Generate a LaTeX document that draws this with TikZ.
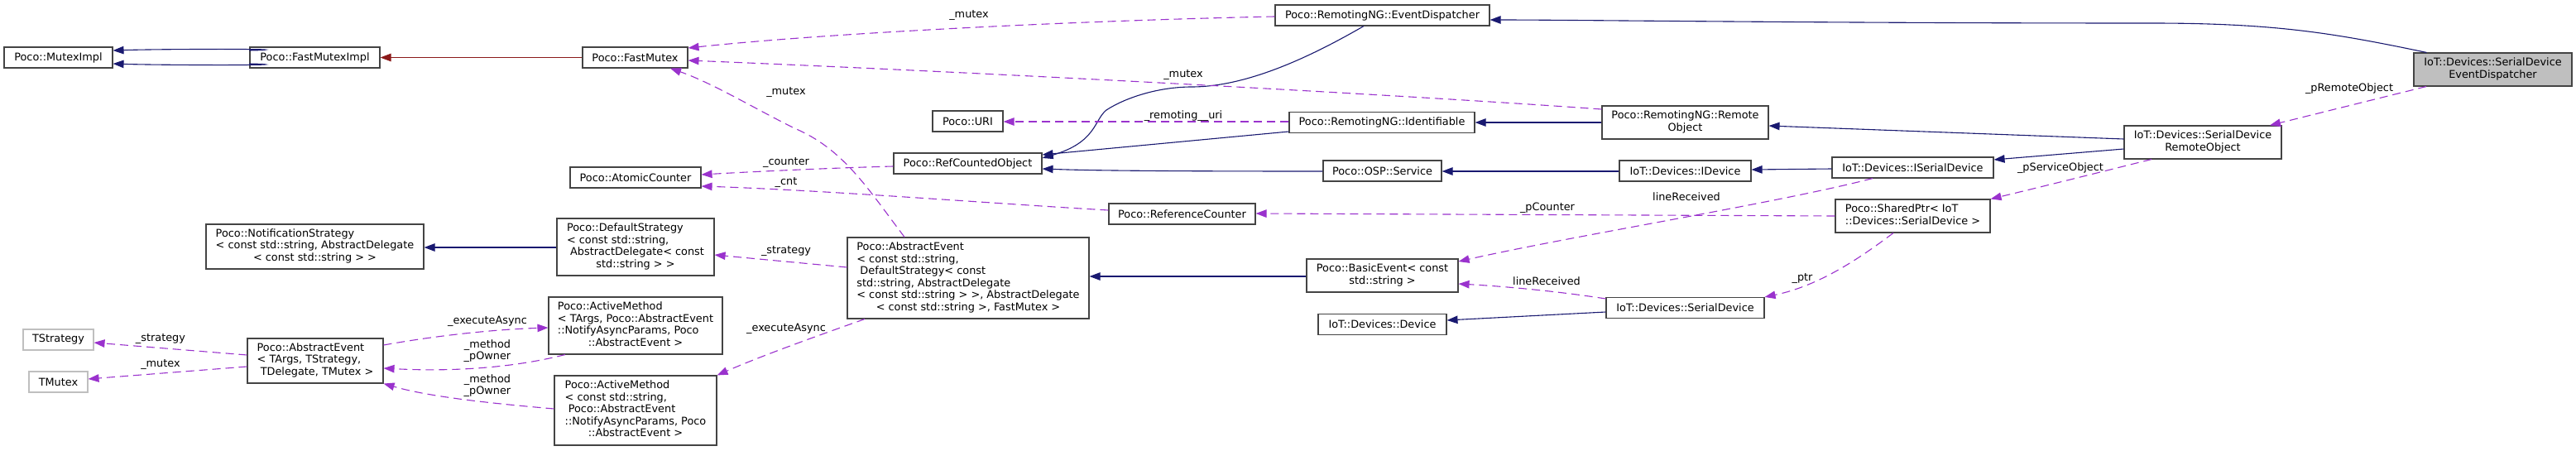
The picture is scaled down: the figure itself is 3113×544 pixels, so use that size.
\documentclass[tikz,border=0pt]{standalone}
\usepackage{fontspec}
\setmainfont{DejaVu Sans}
\usetikzlibrary{arrows.meta}
\definecolor{navy}{HTML}{191970}
\definecolor{purp}{HTML}{9A32CD}
\definecolor{dred}{HTML}{8B1A1A}
\definecolor{bordc}{HTML}{444444}
\definecolor{lgray}{HTML}{BFBFBF}
\newcommand{\fnt}{\fontsize{12.85}{14.5}\selectfont}
\newcommand{\mlines}[1]{\begin{tabular}{@{}l@{}}#1\end{tabular}}
\newcommand{\ctrline}[1]{\multicolumn{1}{@{}c@{}}{#1}}
\begin{document}
\begin{tikzpicture}[x=1pt,y=-1pt,
  box/.style={draw=bordc, line width=1.1pt, fill=white, rectangle, inner sep=0pt, font=\fnt},
  gbox/.style={box, draw=lgray},
  mainbox/.style={box, fill=lgray},
  sz/.style 2 args={minimum width=#1pt, minimum height=#2pt},
  inh/.style={draw=navy, line width=1.1pt, -{Triangle[length=13pt,width=9.5pt]}},
  prot/.style={inh, draw=dred},
  use/.style={draw=purp, line width=1.1pt, dash pattern=on 10pt off 6pt, -{Triangle[length=13pt,width=9.5pt]}},
  lbl/.style={font=\fnt, inner sep=0pt, align=center}]
\useasboundingbox (0,0) rectangle (3113,544);

% ---- nodes ----
\node[box, sz={131}{25}] (mutex) at (70.5,69.5) {Poco::MutexImpl};
\node[box, sz={157}{25}] (fmi) at (380.5,69.5) {Poco::FastMutexImpl};
\node[box, sz={127}{25}] (fm) at (767.5,69.5) {Poco::FastMutex};
\node[box, sz={158}{25}] (ac) at (768,214.5) {Poco::AtomicCounter};
\node[box, sz={190}{69}] (ds) at (768,298.5) {\mlines{Poco::DefaultStrategy\\< const std::string,\\\ AbstractDelegate< const\\ \ctrline{std::string > >}}};
\node[box, sz={263}{54}] (ns) at (380.5,298) {\mlines{Poco::NotificationStrategy\\< const std::string, AbstractDelegate\\ \ctrline{< const std::string > >}}};
\node[gbox, sz={85}{25}] (ts) at (70.5,410.5) {TStrategy};
\node[gbox, sz={71}{25}] (tm) at (70.5,461.5) {TMutex};
\node[box, sz={164}{54}] (aeT) at (381,436) {\mlines{Poco::AbstractEvent\\< TArgs, TStrategy,\\ \ctrline{\ TDelegate, TMutex >}}};
\node[box, sz={210}{69}] (amT) at (768,393.5) {\mlines{Poco::ActiveMethod\\< TArgs, Poco::AbstractEvent\\::NotifyAsyncParams, Poco\\ \ctrline{::AbstractEvent >}}};
\node[box, sz={196}{84}] (amS) at (768,496) {\mlines{Poco::ActiveMethod\\< const std::string,\\\ Poco::AbstractEvent\\::NotifyAsyncParams, Poco\\ \ctrline{::AbstractEvent >}}};
\node[box, sz={292}{98}] (aeS) at (1170,336) {\mlines{Poco::AbstractEvent\\< const std::string,\\\ DefaultStrategy< const\\std::string, AbstractDelegate\\< const std::string > >, AbstractDelegate\\ \ctrline{< const std::string >, FastMutex >}}};
\node[box, sz={85}{25}] (uri) at (1169.5,146.5) {Poco::URI};
\node[box, sz={179}{25}] (rco) at (1169.5,197.5) {Poco::RefCountedObject};
\node[box, sz={177}{25}] (rc) at (1428.5,258.5) {Poco::ReferenceCounter};
\node[box, sz={259}{25}] (ed) at (1670.5,18.5) {Poco::RemotingNG::EventDispatcher};
\node[box, sz={224}{25}] (id) at (1670,148) {Poco::RemotingNG::Identifiable};
\node[box, sz={201}{40}] (ro) at (2036.5,148) {\mlines{Poco::RemotingNG::Remote\\ \ctrline{Object}}};
\node[box, sz={143}{25}] (svc) at (1670.5,206.5) {Poco::OSP::Service};
\node[box, sz={159}{25}] (idev) at (2036.5,206.5) {IoT::Devices::IDevice};
\node[box, sz={195}{25}] (isd) at (2311.5,202.5) {IoT::Devices::ISerialDevice};
\node[box, sz={187}{40}] (sp) at (2311.5,261) {\mlines{Poco::SharedPtr< IoT\\ \ctrline{::Devices::SerialDevice >}}};
\node[box, sz={183}{40}] (be) at (1670.5,333) {\mlines{Poco::BasicEvent< const\\ \ctrline{std::string >}}};
\node[box, sz={155}{25}] (dev) at (1670.5,392) {IoT::Devices::Device};
\node[box, sz={191}{25}] (sd) at (2036.5,372) {IoT::Devices::SerialDevice};
\node[box, sz={190}{40}] (sdro) at (2662,172) {\mlines{IoT::Devices::SerialDevice\\ \ctrline{RemoteObject}}};
\node[mainbox, sz={191}{40}] (main) at (3012.5,84) {\mlines{IoT::Devices::SerialDevice\\ \ctrline{EventDispatcher}}};

% ---- inheritance ----
\draw[inh] (fmi.west |- 0,61) .. controls (380,59) and (200,59) .. (mutex.east |- 0,61);
\draw[inh] (fmi.west |- 0,77) .. controls (380,79) and (200,79) .. (mutex.east |- 0,77);
\draw[prot] (fm.west |- 0,69.5) -- (fmi.east |- 0,69.5);
\draw[inh] (ed.south -| 1648,0) .. controls (1590,65) and (1510,105) .. (1440,105) .. controls (1400,105) and (1360,118) .. (1337,133) .. controls (1322,145) and (1325,172) .. (rco.east |- 0,191);
\draw[inh] (ro.west |- 0,148) -- (id.east |- 0,148);
\draw[inh] (id.west |- 0,159) -- (rco.east |- 0,187);
\draw[inh] (svc.west |- 0,207) .. controls (1330,207) and (1290,205) .. (rco.east |- 0,204);
\draw[inh] ([xshift=16pt]main.north west) .. controls (2820,40) and (2750,28) .. (2600,28) .. controls (2200,28) and (1900,24) .. (ed.east |- 0,24);
\draw[inh] (idev.west |- 0,207) -- (svc.east |- 0,207);
\draw[inh] (isd.west |- 0,204) -- (idev.east |- 0,205);
\draw[inh] (sdro.west |- 0,168) -- (ro.east |- 0,152);
\draw[inh] (sdro.west |- 0,180) -- (isd.east |- 0,193);
\draw[inh] (ds.west |- 0,299) -- (ns.east |- 0,299);
\draw[inh] (be.west |- 0,334) -- (aeS.east |- 0,334);
\draw[inh] (sd.west |- 0,377) -- (dev.east |- 0,387);

% ---- usage ----
\draw[use] (ed.west |- 0,20) .. controls (1300,25) and (1000,40) .. (fm.east |- 0,58);
\node[lbl] (l1) at (1171,19) {\_mutex};
\draw[use] (ro.west |- 0,132) .. controls (1700,115) and (1200,88) .. (fm.east |- 0,73);
\node[lbl] (l2) at (1430,91) {\_mutex};
\draw[use] (aeS.north -| 1093,0) .. controls (1050,230) and (1020,180) .. (960,155) .. controls (910,130) and (860,100) .. (fm.south -| 810,0);
\node[lbl] (l3) at (950,112) {\_mutex};
\draw[use] (id.west |- 0,147) -- (uri.east |- 0,147);
\node[lbl] (l4) at (1430,140) {\_remoting\_\_uri};
\draw[use] (rco.west |- 0,201) .. controls (1000,203) and (900,208) .. (ac.east |- 0,211);
\node[lbl] (l5) at (950,196) {\_counter};
\draw[use] (rc.west |- 0,254) .. controls (1200,246) and (1000,230) .. (ac.east |- 0,225);
\node[lbl] (l6) at (950,220) {\_cnt};
\draw[use] (sp.west |- 0,261) -- (rc.east |- 0,258);
\node[lbl] (l7) at (1870,251) {\_pCounter};
\draw[use] (isd.south -| 2263,0) .. controls (2150,245) and (1900,285) .. (be.east |- 0,316);
\node[lbl] (l8) at (2038,238) {lineReceived};
\draw[use] (sd.west |- 0,361) .. controls (1870,350) and (1800,345) .. (be.east |- 0,343);
\node[lbl] (l9) at (1869,340) {lineReceived};
\draw[use] (sp.south -| 2288,0) .. controls (2250,310) and (2200,345) .. (sd.north east);
\node[lbl] (l10) at (2178,336) {\_ptr};
\draw[use] (sdro.south -| 2600,0) .. controls (2530,210) and (2470,225) .. (sp.north east);
\node[lbl] (l11) at (2490,203) {\_pServiceObject};
\draw[use] (main.south -| 2932,0) -- (sdro.north -| 2743,0);
\node[lbl] (l12) at (2839,107) {\_pRemoteObject};
\draw[use] (aeS.west |- 0,323) -- (ds.east |- 0,308);
\node[lbl] (l13) at (950,303) {\_strategy};
\draw[use] (aeS.south -| 1045,0) .. controls (990,405) and (920,430) .. (amS.north east);
\node[lbl] (l14) at (950,397) {\_executeAsync};
\draw[use] (aeT.west |- 0,429) -- (ts.east |- 0,414);
\node[lbl] (l15) at (194,409) {\_strategy};
\draw[use] (aeT.west |- 0,443) -- (tm.east |- 0,458);
\node[lbl] (l16) at (194,440) {\_mutex};
\draw[use] (aeT.east |- 0,417) .. controls (530,405) and (600,398) .. (amT.west |- 0,396);
\node[lbl] (l17) at (589,388) {\_executeAsync};
\draw[use] (amT.south -| 683,0) .. controls (630,442) and (560,450) .. (aeT.east |- 0,445);
\node[lbl] (l18) at (589,424) {\_method\\\_pOwner};
\draw[use] (amS.west |- 0,494) .. controls (600,488) and (520,480) .. (aeT.south east);
\node[lbl] (l19) at (589,466) {\_method\\\_pOwner};
\end{tikzpicture}
\end{document}
